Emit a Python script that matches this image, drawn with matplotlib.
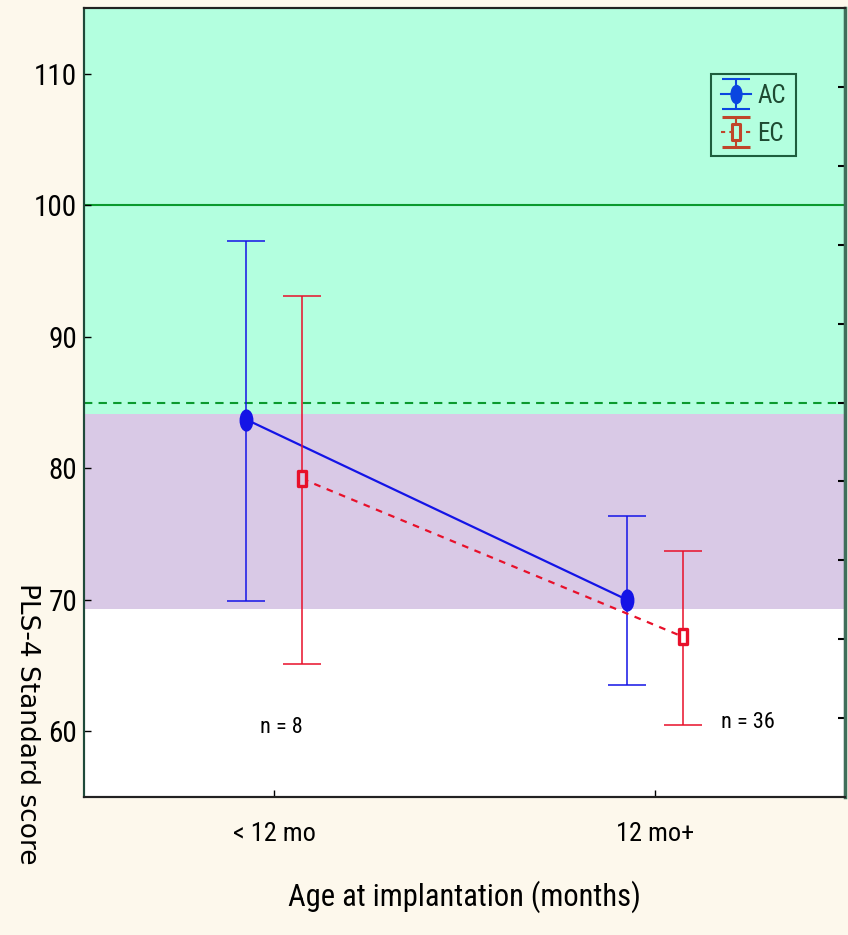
import matplotlib
matplotlib.use("Agg")
import matplotlib.pyplot as plt
from matplotlib.path import Path
from matplotlib.transforms import Affine2D
from matplotlib.legend_handler import HandlerErrorbar
import numpy as np

# ---- data ----
categories = ["< 12 mo", "12 mo+"]
ac_mean = [83.7, 70.0]
ac_upper = [97.3, 76.4]
ac_lower = [69.9, 63.5]
ec_mean = [79.2, 67.2]
ec_upper = [93.1, 73.7]
ec_lower = [65.1, 60.5]
n_labels = ["n = 8", "n = 36"]
n_label_x = [0.02, 1.245]
n_label_y = [60.3, 60.7]
yticks_left = [60, 70, 80, 90, 100, 110]
yticks_right = [61, 67, 73, 79, 85, 91, 97, 103, 109]
band_typical = (84.1, 115)      # green zone
band_borderline = (69.3, 84.1)  # purple zone
ref_mean = 100
ref_cut = 85

NARROW = ["Roboto Condensed", "DejaVu Sans"]
BG = "#fdf8ec"
MINT = "#b3ffdf"
PURPLE = "#d9c9e6"
GREEN = "#0a9a2e"
BLUE = "#1414e6"
RED = "#e8102a"
LEG_BLUE = "#0a46e0"
LEG_RED = "#c0452a"

fig = plt.figure(figsize=(8.48, 9.35), dpi=100, facecolor=BG)
ax = fig.add_axes([0.099, 0.1476, 0.8975, 0.8438])
ax.set_facecolor("white")

ax.axhspan(*band_typical, color=MINT, zorder=0, lw=0)
ax.axhspan(*band_borderline, color=PURPLE, zorder=0, lw=0)
ax.axhline(ref_mean, color=GREEN, lw=1.5, zorder=1)
ax.axhline(ref_cut, color=GREEN, lw=1.5, ls=(0, (4, 3)), zorder=1)

x = np.arange(len(categories))
off = 0.073
ell = Path.unit_circle().transformed(Affine2D().scale(0.6, 1.0))
rect = Path([(-0.55, -1), (0.55, -1), (0.55, 1), (-0.55, 1), (-0.55, -1)],
            [Path.MOVETO, Path.LINETO, Path.LINETO, Path.LINETO, Path.CLOSEPOLY])

ac_mean = np.array(ac_mean)
ec_mean = np.array(ec_mean)
ac_err = [ac_mean - np.array(ac_lower), np.array(ac_upper) - ac_mean]
ec_err = [ec_mean - np.array(ec_lower), np.array(ec_upper) - ec_mean]

ax.errorbar(x - off, ac_mean, yerr=ac_err, fmt="none", ecolor=BLUE,
            elinewidth=1.1, capsize=13.5, capthick=1.1, zorder=3)
ax.plot(x - off, ac_mean, color=BLUE, lw=1.6, zorder=3)
ax.plot(x - off, ac_mean, ls="none", marker=ell, ms=15, color=BLUE,
        mec=BLUE, zorder=4)

ax.errorbar(x + off, ec_mean, yerr=ec_err, fmt="none", ecolor=RED,
            elinewidth=1.1, capsize=13.5, capthick=1.1, zorder=3)
ax.plot(x + off, ec_mean, color=RED, lw=1.6, ls=(0, (3, 3)), zorder=3)
# hollow squares: the band colour shows through
ax.scatter(x + off, ec_mean, marker=rect, s=110, facecolors=[PURPLE, "white"],
           edgecolors=RED, linewidths=2.4, zorder=4)

for xi, yi, lab in zip(n_label_x, n_label_y, n_labels):
    ax.text(xi, yi, lab, ha="center", va="center", fontsize=16, family=NARROW)

ax.set_xlim(-0.5, 1.5)
ax.set_ylim(55, 115)
ax.set_xticks(x)
ax.set_xticklabels(categories, family=NARROW, fontsize=19)
ax.set_yticks(yticks_left)
ax.set_yticklabels([str(v) for v in yticks_left], family=NARROW, fontsize=21)
ax.tick_params(axis="both", direction="in", length=5, width=1)
ax.tick_params(axis="x", pad=18)
ax.tick_params(axis="y", pad=5)
ax.set_xlabel("Age at implantation (months)", family=NARROW, fontsize=22,
              labelpad=25)

tw = ax.twinx()
tw.set_ylim(55, 115)
tw.set_yticks(yticks_right)
tw.set_yticklabels([])
tw.tick_params(axis="y", direction="in", length=5, width=1.5)

for a in (ax, tw):
    for s in a.spines.values():
        s.set_color("#222222")
        s.set_linewidth(1.5)
ax.spines["left"].set_color("#1f4a3a")
tw.spines["left"].set_color("#1f4a3a")
tw.spines["right"].set_color("#3f6f5a")
tw.spines["right"].set_linewidth(2.5)

# y label reads top to bottom and runs off the lower edge, as in the source
fig.text(20 / 848, 352 / 935, "PLS-4 Standard score", rotation=-90,
         rotation_mode="anchor", ha="left", va="baseline", fontsize=19,
         family=["DejaVu Sans"])

# legend handles: errorbar glyphs drawn off the visible data
h_ac = tw.errorbar([np.nan], [np.nan], yerr=[1], color=LEG_BLUE, ls="-",
                   marker=ell, ms=13, elinewidth=1.5, capsize=10, capthick=1.5)
h_ec = tw.errorbar([np.nan], [np.nan], yerr=[1], color=LEG_RED,
                   ls=(0, (2, 2)), marker=rect, ms=11, mfc=MINT, mec=LEG_RED,
                   mew=2.2, elinewidth=1.5, capsize=10, capthick=1.5)
leg = tw.legend([h_ac, h_ec], ["AC", "EC"], loc="upper left",
                bbox_to_anchor=(0.824, 0.9163), borderaxespad=0,
                frameon=True, fancybox=False,
                facecolor=MINT, edgecolor="#1e5e3e", framealpha=1,
                prop={"family": NARROW, "size": 18}, handlelength=1.2,
                handletextpad=0.25, borderpad=0.4, labelspacing=0.55,
                handler_map={type(h_ac): HandlerErrorbar(yerr_size=0.6)})
for t in leg.get_texts():
    t.set_color("#1e4a32")
leg.get_frame().set_linewidth(1.5)

fig.savefig("out.png", dpi=100, facecolor=BG)
